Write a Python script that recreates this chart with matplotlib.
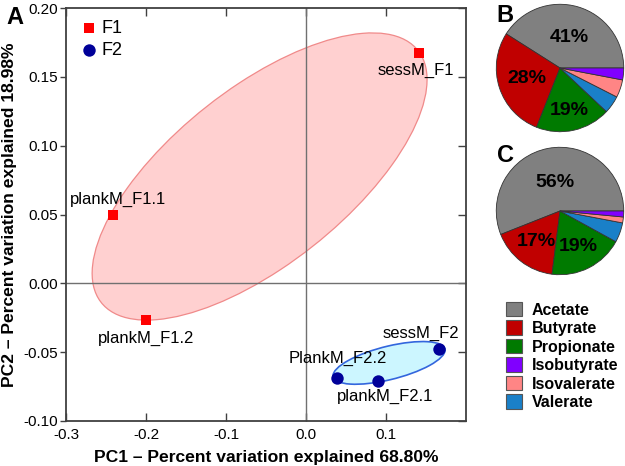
import numpy as np
import matplotlib
matplotlib.use('Agg')
import matplotlib.pyplot as plt
import matplotlib.patches as mpatches

plt.rcParams['font.family'] = ['Liberation Sans', 'DejaVu Sans']

# PCA scores (panel A)
f1_names = ['sessM_F1', 'plankM_F1.1', 'plankM_F1.2']
f1_pc1 = [0.141, -0.2416, -0.2004]
f1_pc2 = [0.167, 0.0497, -0.0266]

f2_names = ['sessM_F2', 'PlankM_F2.2', 'plankM_F2.1']
f2_pc1 = [0.1667, 0.0392, 0.090]
f2_pc2 = [-0.0479, -0.0685, -0.0707]

# group ellipses: centre x, centre y, width, height, angle
f1_ellipse = [-0.058, 0.0776, 0.4447, 0.1450, 20.9]
f2_ellipse = [0.1038, -0.0578, 0.1413, 0.0246, 7.8]

# VFA composition (panels B and C)
acids = ['Acetate', 'Butyrate', 'Propionate', 'Isobutyrate', 'Isovalerate', 'Valerate']
acid_colors = ['#808080', '#c00000', '#007a00', '#8000ff', '#ff8585', '#1a80c8']
pie_b = [41, 28, 19, 3, 4.5, 4.5]
pie_c = [56, 17, 19, 1.5, 1.5, 5]
pie_order = [0, 1, 2, 5, 4, 3]   # wedge order counter-clockwise from 3 o'clock
pct_shown = [0, 1, 2]

fig = plt.figure(figsize=(6.25, 4.66), dpi=100)

# ---------------- panel A ----------------
ax = fig.add_axes([66/625, 45/466, 400/625, 413/466])
ax.set_xlim(-0.3, 0.2)
ax.set_ylim(-0.10, 0.20)

e1 = mpatches.Ellipse((f1_ellipse[0], f1_ellipse[1]), f1_ellipse[2], f1_ellipse[3],
                      angle=f1_ellipse[4], facecolor='#ffd0d0', edgecolor='#f08a8a',
                      linewidth=0.9, zorder=1)
e2 = mpatches.Ellipse((f2_ellipse[0], f2_ellipse[1]), f2_ellipse[2], f2_ellipse[3],
                      angle=f2_ellipse[4], facecolor='#ccf6ff', edgecolor='#3366dd',
                      linewidth=1.2, zorder=1)
ax.add_patch(e1)
ax.add_patch(e2)

ax.axhline(0, color='#707070', lw=1, zorder=2)
ax.axvline(0, color='#707070', lw=1, zorder=2)

ax.scatter(f1_pc1, f1_pc2, s=60, marker='s', color='#ff0000', linewidth=0, zorder=4, label='F1')
ax.scatter(f2_pc1, f2_pc2, s=80, marker='o', color='#000099', linewidth=0, zorder=4, label='F2')

f1_offsets = [(-3, -17), (5, 15), (0, -18)]
f2_offsets = [(-18, 16), (0, 19), (7, -16)]
for i in range(3):
	ax.annotate(f1_names[i], (f1_pc1[i], f1_pc2[i]), xytext=f1_offsets[i],
	            textcoords='offset pixels', ha='center', va='center', fontsize=12, zorder=5)
	ax.annotate(f2_names[i], (f2_pc1[i], f2_pc2[i]), xytext=f2_offsets[i],
	            textcoords='offset pixels', ha='center', va='center', fontsize=12, zorder=5)

ax.set_xticks([-0.3, -0.2, -0.1, 0.0, 0.1])
ax.set_xticklabels(['-0.3', '-0.2', '-0.1', '0.0', '0.1'])
ax.set_yticks([-0.10, -0.05, 0.0, 0.05, 0.10, 0.15, 0.20])
ax.set_yticklabels(['-0.10', '-0.05', '0.00', '0.05', '0.10', '0.15', '0.20'])
ax.tick_params(axis='x', direction='in', length=6, width=1, labelsize=11, pad=5, color='#404040')
ax.tick_params(axis='y', direction='out', length=4, width=1, labelsize=11, pad=2, color='#404040')

top = ax.secondary_xaxis('top')
top.set_xticks([-0.3, -0.2, -0.1, 0.0, 0.1])
top.tick_params(direction='in', length=6, width=1, labeltop=False, color='#404040')
right = ax.secondary_yaxis('right')
right.set_yticks([-0.10, -0.05, 0.0, 0.05, 0.10, 0.15, 0.20])
right.tick_params(direction='in', length=6, width=1, labelright=False, color='#404040')
for sec in (top, right):
	for s in sec.spines.values():
		s.set_visible(False)

for s in ax.spines.values():
	s.set_color('#404040')
	s.set_linewidth(1.3)

ax.set_xlabel('PC1 \u2013 Percent variation explained 68.80%', fontsize=12.6, fontweight='bold', labelpad=6)
ax.set_ylabel('PC2 \u2013 Percent variation explained 18.98%', fontsize=12.6, fontweight='bold', labelpad=4)

ax.legend(loc='upper left', frameon=False, fontsize=13, handletextpad=0.1,
          handlelength=1.2, borderaxespad=0.25, labelspacing=0.3)

fig.text(15/625, 1 - 18/466, 'A', fontsize=17, fontweight='bold', ha='center', va='center')
fig.text(505/625, 1 - 15/466, 'B', fontsize=17, fontweight='bold', ha='center', va='center')
fig.text(505/625, 1 - 155/466, 'C', fontsize=17, fontweight='bold', ha='center', va='center')

# ---------------- panels B and C ----------------
def draw_pie(rect, values, dists):
	pax = fig.add_axes(rect)
	vals = [values[k] for k in pie_order]
	cols = [acid_colors[k] for k in pie_order]
	wedges, _ = pax.pie(vals, colors=cols, startangle=0, counterclock=True,
	                    wedgeprops=dict(edgecolor='#333333', linewidth=0.6))
	for j, k in enumerate(pie_order):
		if k in pct_shown:
			w = wedges[j]
			ang = np.deg2rad((w.theta1 + w.theta2) / 2)
			d = dists[pct_shown.index(k)]
			pax.text(d*np.cos(ang), d*np.sin(ang), '%d%%' % round(values[k]),
			         ha='center', va='center', fontsize=14, fontweight='bold')
	pax.set_xlim(-1.02, 1.02)
	pax.set_ylim(-1.02, 1.02)
	pax.set_aspect('equal')
	return pax

draw_pie([495/625, 1 - 133/466, 130/625, 130/466], pie_b, [0.5, 0.55, 0.68])
draw_pie([495/625, 1 - 276/466, 130/625, 130/466], pie_c, [0.46, 0.6, 0.62])

handles = [mpatches.Patch(facecolor=acid_colors[k], edgecolor='#555555', linewidth=0.8) for k in range(len(acids))]
leg = fig.legend(handles, acids, loc='upper left', bbox_to_anchor=(506/625, 1 - 302/466),
                 frameon=False, handlelength=1.0, handleheight=1.0, handletextpad=0.6,
                 labelspacing=0.18, borderaxespad=0, borderpad=0,
                 prop=dict(weight='bold', size=11.5))

plt.savefig('out.png', dpi=100)
